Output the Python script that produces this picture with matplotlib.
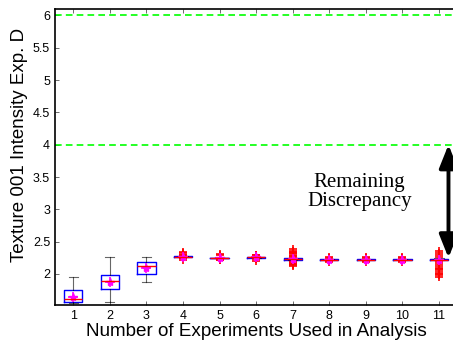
import numpy as np
import matplotlib
matplotlib.use('Agg')
from matplotlib import pyplot as plt

# box statistics per number of experiments
n_exp = [1, 2, 3, 4, 5, 6, 7, 8, 9, 10, 11]
q1 = [1.57, 1.77, 2.00, 2.265, 2.245, 2.255, 2.22, 2.215, 2.215, 2.215, 2.215]
med = [1.61, 1.89, 2.13, 2.27, 2.25, 2.26, 2.23, 2.22, 2.22, 2.22, 2.22]
q3 = [1.75, 1.98, 2.19, 2.275, 2.255, 2.265, 2.24, 2.225, 2.225, 2.225, 2.23]
wlo = [1.55, 1.56, 1.88, 2.26, 2.24, 2.25, 2.21, 2.21, 2.21, 2.21, 2.21]
whi = [1.96, 2.27, 2.27, 2.28, 2.26, 2.27, 2.25, 2.23, 2.23, 2.23, 2.24]
means = [1.65, 1.88, 2.10, 2.26, 2.25, 2.26, 2.23, 2.21, 2.21, 2.21, 2.22]
outliers = [
    [],
    [],
    [],
    [2.22, 2.24, 2.30, 2.32, 2.34, 2.25, 2.29],
    [2.21, 2.22, 2.29, 2.31, 2.23],
    [2.20, 2.23, 2.29, 2.30],
    [2.12, 2.14, 2.16, 2.18, 2.19, 2.26, 2.28, 2.30, 2.32, 2.34, 2.36, 2.38, 2.15, 2.33],
    [2.19, 2.20, 2.25, 2.26],
    [2.19, 2.20, 2.25, 2.26],
    [2.19, 2.20, 2.25, 2.26],
    [1.95, 1.98, 2.01, 2.04, 2.07, 2.10, 2.13, 2.16, 2.19, 2.27, 2.30, 2.33, 2.35, 2.00, 2.08],
]
ref_lines = [6.0, 4.0]
gap_top, gap_bottom = 4.0, 2.25

plt.rcParams['font.family'] = ['Liberation Sans', 'DejaVu Sans']

fig = plt.figure(figsize=(4.53, 3.47), dpi=100)
ax = fig.add_axes([0.1214, 0.121, 0.888, 0.853])

stats = []
for i in range(len(n_exp)):
    stats.append({'med': med[i], 'q1': q1[i], 'q3': q3[i],
                  'whislo': wlo[i], 'whishi': whi[i],
                  'mean': means[i], 'fliers': outliers[i]})

ax.bxp(stats, positions=n_exp, widths=0.5, showmeans=False,
       boxprops=dict(color='#0000ff', linewidth=1.0),
       medianprops=dict(color='#ff0000', linewidth=1.0),
       whiskerprops=dict(color='#000000', linewidth=0.8, alpha=0.6),
       capprops=dict(color='#000000', linewidth=0.8, alpha=0.6),
       flierprops=dict(marker='+', markeredgecolor='#ff0000', markersize=6,
                       markeredgewidth=1.2, linestyle='none'))
ax.plot(n_exp, means, linestyle='none', marker='*', color='#ff00ff', markersize=6)
ax.plot(n_exp, means, linestyle='none', marker='+', color='#ff00ff', markersize=7,
        markeredgewidth=1.2)

for y in ref_lines:
    ax.axhline(y, color='#00ff00', linestyle='--', linewidth=1.2, dashes=(4, 2.5))

ax.annotate('', xy=(11.26, gap_bottom), xytext=(11.26, gap_top),
            arrowprops=dict(arrowstyle='<|-|>,head_length=1.0,head_width=0.4',
                            color='black', lw=2.8,
                            mutation_scale=14, shrinkA=0, shrinkB=0))
ax.text(8.82, 3.27, 'Remaining\nDiscrepancy', ha='center', va='center',
        fontsize=15, family='Liberation Serif', linespacing=1.05)

ax.set_xlim(0.5, 11.5)
ax.set_ylim(1.52, 6.1)
ax.set_xticks(n_exp)
ax.set_yticks(np.arange(2, 6.01, 0.5))
ax.set_yticklabels(['2', '2.5', '3', '3.5', '4', '4.5', '5', '5.5', '6'])
ax.tick_params(direction='in', length=3, width=0.6, labelsize=9,
               top=True, right=True, colors='#555555', labelcolor='black')
for s in ax.spines.values():
    s.set_linewidth(1.2)

ax.set_xlabel('Number of Experiments Used in Analysis', fontsize=13.6, labelpad=1)
ax.set_ylabel('Texture 001 Intensity Exp. D', fontsize=13.5, va='center')
ax.yaxis.set_label_coords(-0.087, 0.54)

fig.savefig('out.png', dpi=100)
